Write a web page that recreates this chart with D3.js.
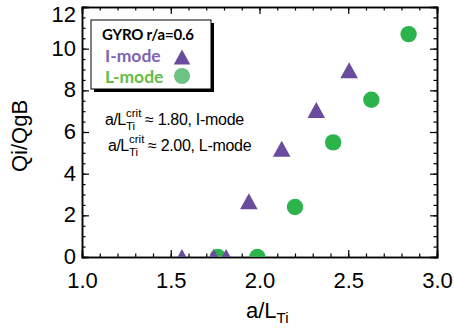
<!DOCTYPE html>
<html>
<head>
<meta charset="utf-8">
<script src="https://cdn.jsdelivr.net/npm/d3@7"></script>
<style>
  body { margin: 0; background: #fff; }
  svg { display: block; }
  .tick text { font-family: "Liberation Sans", Arial, sans-serif; }
</style>
</head>
<body>
<div id="chart"></div>
<script>
// data
const iModeX = [1.563, 1.742, 1.812, 1.94, 2.125, 2.32, 2.505];
const iModeY = [0, 0, 0, 2.68, 5.2, 7.06, 8.97];
const lModeX = [1.765, 1.988, 2.2, 2.415, 2.63, 2.84];
const lModeY = [0, 0, 2.4, 5.5, 7.55, 10.7];
const xTicks = [1.0, 1.5, 2.0, 2.5, 3.0];
const yTicks = [0, 2, 4, 6, 8, 10, 12];

const width = 454, height = 333;
const margin = { top: 7, right: 17, bottom: 76, left: 82 };
const purple = "#6a4c9e", green = "#2db34b";
const font = "Liberation Sans, Arial, sans-serif";

const svg = d3.select("#chart").append("svg")
    .attr("width", width)
    .attr("height", height);

const x = d3.scaleLinear([1, 3], [margin.left, width - margin.right]);
const y = d3.scaleLinear([0, 12], [height - margin.bottom, margin.top]);

svg.append("defs").append("clipPath")
    .attr("id", "plot")
    .append("rect")
    .attr("x", margin.left)
    .attr("y", margin.top)
    .attr("width", x(3) - x(1))
    .attr("height", y(0) - y(12));

// minor ticks
const xMinor = d3.range(1, 3.001, 0.1);
const yMinor = d3.range(0, 12.001, 0.5);
function addAxis(axis, tr) {
    const g = svg.append("g").attr("transform", tr).call(axis);
    g.select(".domain").attr("stroke-width", 1.5);
    g.selectAll(".tick line").attr("stroke-width", 1.2);
    return g;
}
addAxis(d3.axisBottom(x).tickValues(xMinor).tickSize(-3.5).tickFormat(""), `translate(0,${y(0)})`);
addAxis(d3.axisTop(x).tickValues(xMinor).tickSize(-3.5).tickFormat(""), `translate(0,${y(12)})`);
addAxis(d3.axisLeft(y).tickValues(yMinor).tickSize(-3.5).tickFormat(""), `translate(${x(1)},0)`);
addAxis(d3.axisRight(y).tickValues(yMinor).tickSize(-3.5).tickFormat(""), `translate(${x(3)},0)`);

// major ticks
const xAxis = addAxis(d3.axisBottom(x).tickValues(xTicks).tickSize(-7).tickPadding(15).tickFormat(d3.format(".1f")), `translate(0,${y(0)})`);
xAxis.selectAll(".tick text").attr("font-size", 22).attr("fill", "#000");
addAxis(d3.axisTop(x).tickValues(xTicks).tickSize(-7).tickFormat(""), `translate(0,${y(12)})`);
const yAxis = addAxis(d3.axisLeft(y).tickValues(yTicks).tickSize(-7).tickPadding(6).tickFormat(d3.format("d")), `translate(${x(1)},0)`);
yAxis.selectAll(".tick text").attr("font-size", 22).attr("fill", "#000")
    .attr("dy", d => d === 12 ? "0.68em" : "0.3em");
addAxis(d3.axisRight(y).tickValues(yTicks).tickSize(-7).tickFormat(""), `translate(${x(3)},0)`);

// axis titles
svg.append("text")
    .attr("transform", `translate(27,136) rotate(-90)`)
    .attr("text-anchor", "middle")
    .attr("font-family", font)
    .attr("font-size", 22)
    .text("Qi/QgB");

const xt = svg.append("text")
    .attr("x", 246)
    .attr("y", 318)
    .attr("font-family", font)
    .attr("font-size", 22);
xt.append("tspan").text("a/L");
xt.append("tspan").attr("font-size", 15).attr("dy", 5).text("Ti");

// markers
const triPath = s => `M0,${-s * 0.5}L${s * 0.55},${s * 0.5}L${-s * 0.55},${s * 0.5}Z`;
const marks = svg.append("g").attr("clip-path", "url(#plot)");

marks.selectAll(".lmode")
    .data(lModeX.map((v, i) => [v, lModeY[i]]))
    .join("circle")
    .attr("class", "lmode")
    .attr("cx", d => x(d[0]))
    .attr("cy", d => y(d[1]))
    .attr("r", 8.2)
    .attr("fill", green);

marks.selectAll(".imode")
    .data(iModeX.map((v, i) => [v, iModeY[i]]))
    .join("path")
    .attr("class", "imode")
    .attr("transform", d => `translate(${x(d[0])},${y(d[1])})`)
    .attr("d", triPath(16))
    .attr("fill", purple);

// legend box with shadow
const leg = svg.append("g");
leg.append("rect").attr("x", 94).attr("y", 23).attr("width", 120).attr("height", 69).attr("fill", "#000");
leg.append("rect").attr("x", 91).attr("y", 20).attr("width", 120).attr("height", 69)
    .attr("fill", "#fff").attr("stroke", "#000").attr("stroke-width", 1);

const legFont = "Lato, 'Open Sans', sans-serif";
leg.append("text").attr("x", 102).attr("y", 40)
    .attr("font-family", legFont).attr("font-weight", 700).attr("font-size", 15)
    .attr("letter-spacing", -0.2)
    .text("GYRO r/a=0.6");
leg.append("text").attr("x", 105).attr("y", 62)
    .attr("font-family", legFont).attr("font-weight", 700).attr("font-size", 17.5)
    .attr("fill", "#7e64b4")
    .text("I-mode");
leg.append("text").attr("x", 105).attr("y", 83)
    .attr("font-family", legFont).attr("font-weight", 700).attr("font-size", 17.5)
    .attr("fill", "#62be46")
    .text("L-mode");
leg.append("path").attr("transform", "translate(182,57)").attr("d", triPath(15)).attr("fill", purple);
leg.append("circle").attr("cx", 182).attr("cy", 76).attr("r", 8).attr("fill", "#6cc383");

// annotations
const notes = [
    { x: 105, y: 125, v: "1.80, I-mode" },
    { x: 108, y: 151, v: "2.00, L-mode" }
];
notes.forEach(n => {
    svg.append("text")
        .attr("x", n.x).attr("y", n.y)
        .attr("font-family", font)
        .attr("font-size", 16).attr("letter-spacing", -0.5)
        .text("a/L");
    const sx = n.x + 21;
    svg.append("text").attr("x", sx).attr("y", n.y - 8.5)
        .attr("font-family", font)
        .attr("font-size", 11.5).text("crit");
    svg.append("text").attr("x", sx).attr("y", n.y + 4.5)
        .attr("font-family", font)
        .attr("font-size", 11.5).text("Ti");
    svg.append("text").attr("x", n.x + 40).attr("y", n.y)
        .attr("font-family", font)
        .attr("font-size", 16).attr("letter-spacing", -0.3)
        .text("\u2248 " + n.v);
});
</script>
</body>
</html>
